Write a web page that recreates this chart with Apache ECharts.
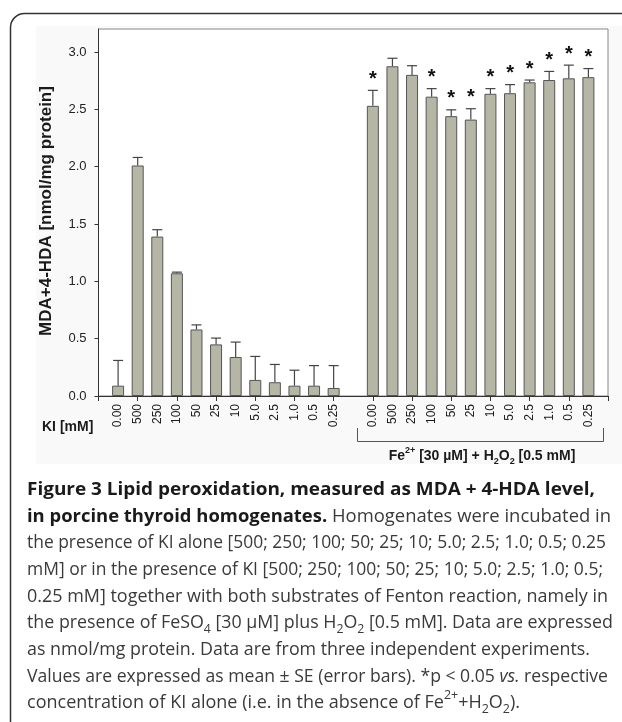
<!DOCTYPE html>
<html>
<head>
<meta charset="utf-8">
<script src="https://cdn.jsdelivr.net/npm/echarts@6/dist/echarts.min.js"></script>
<style>
  html, body { margin: 0; padding: 0; background: #fff; }
  #chart { width: 622px; height: 722px; }
</style>
</head>
<body>
<div id="chart"></div>
<script>
// KI concentrations [mM], same order in both groups
const kiLabels = ['0.00', '500', '250', '100', '50', '25', '10', '5.0', '2.5', '1.0', '0.5', '0.25'];
// KI alone
const kiAlone = [0.09, 2.01, 1.39, 1.07, 0.58, 0.45, 0.34, 0.14, 0.12, 0.09, 0.09, 0.07];
const kiAloneSE = [0.22, 0.07, 0.06, 0.01, 0.04, 0.055, 0.13, 0.205, 0.155, 0.135, 0.175, 0.195];
// KI + Fe2+ [30 uM] + H2O2 [0.5 mM]
const kiFenton = [2.53, 2.875, 2.80, 2.61, 2.44, 2.41, 2.635, 2.64, 2.735, 2.755, 2.77, 2.78];
const kiFentonSE = [0.135, 0.07, 0.08, 0.07, 0.055, 0.095, 0.045, 0.075, 0.02, 0.075, 0.115, 0.075];
const fentonSig = [1, 0, 0, 1, 1, 1, 1, 1, 1, 1, 1, 1];
const yTicks = [0, 0.5, 1.0, 1.5, 2.0, 2.5, 3.0];

// slots on the x axis: empty, 12 KI alone, empty gap, 12 with Fenton, empty
const slotLabels = [''].concat(kiLabels, [''], kiLabels, ['']);
const slotKeys = slotLabels.map((l, i) => i + ':' + l);

const barData = slotLabels.map(() => '-');
const errData = [];
kiAlone.forEach((v, i) => {
  barData[i + 1] = v;
  errData.push([i + 1, v, kiAloneSE[i], 0]);
});
kiFenton.forEach((v, i) => {
  barData[i + 14] = v;
  errData.push([i + 14, v, kiFentonSE[i], fentonSig[i]]);
});

const chart = echarts.init(document.getElementById('chart'));

const capFont = '"Open Sans", "Liberation Sans", sans-serif';
const capRich = {
  b: { fontFamily: capFont, fontSize: 17.4, fontWeight: 'bold', fill: '#1a1a1a', lineHeight: 26 },
  n: { fontFamily: capFont, fontSize: 17.4, fill: '#3a3a3a', lineHeight: 26 },
  i: { fontFamily: capFont, fontSize: 17.4, fontStyle: 'italic', fill: '#3a3a3a', lineHeight: 26 },
  sub: { fontFamily: capFont, fontSize: 12, fill: '#3a3a3a', lineHeight: 14, verticalAlign: 'bottom' },
  sup: { fontFamily: capFont, fontSize: 12, fill: '#3a3a3a', lineHeight: 16, verticalAlign: 'top' }
};
const captionLines = [
  '{b|Figure 3 Lipid peroxidation, measured as MDA + 4-HDA level,}',
  '{b|in porcine thyroid homogenates.}{n| Homogenates were incubated in}',
  '{n|the presence of KI alone [500; 250; 100; 50; 25; 10; 5.0; 2.5; 1.0; 0.5; 0.25}',
  '{n|mM] or in the presence of KI [500; 250; 100; 50; 25; 10; 5.0; 2.5; 1.0; 0.5;}',
  '{n|0.25 mM] together with both substrates of Fenton reaction, namely in}',
  '{n|the presence of FeSO}{sub|4}{n| [30 µM] plus H}{sub|2}{n|O}{sub|2}{n| [0.5 mM]. Data are expressed}',
  '{n|as nmol/mg protein. Data are from three independent experiments.}',
  '{n|Values are expressed as mean ± SE (error bars). *p < 0.05 }{i|vs.}{n| respective}',
  '{n|concentration of KI alone (i.e. in the absence of Fe}{sup|2+}{n|+H}{sub|2}{n|O}{sub|2}{n|).}'
];
const captionY = [490, 517, 543, 570, 597, 623, 650, 677, 703];
const captionRight = [595, 611, 606, 603, 608, 613, 590, 608, 520];
const captionLeft = 27;

// measure a rich caption line so it can be stretched to the reference width
const measureCtx = document.createElement('canvas').getContext('2d');
function lineWidth(str) {
  let w = 0;
  str.replace(/\{(\w+)\|([^}]*)\}/g, (m, s, t) => {
    const st = capRich[s];
    measureCtx.font = (st.fontStyle || 'normal') + ' ' + (st.fontWeight || 'normal') + ' ' + st.fontSize + 'px ' + st.fontFamily;
    w += measureCtx.measureText(t).width;
    return m;
  });
  return w;
}

const graphics = [
  { type: 'rect', z: -10, shape: { x: 36, y: 26, width: 590, height: 438 }, style: { fill: '#f9f9f9' } },
  { type: 'rect', z: -5, shape: { x: 10.5, y: 13.5, width: 700, height: 800, r: 14 }, style: { fill: 'none', stroke: '#333', lineWidth: 1.5 } },
  {
    type: 'text', x: 46, y: 211, rotation: Math.PI / 2,
    style: { text: 'MDA+4-HDA [nmol/mg protein]', font: 'bold 17px "Liberation Sans", Arial, sans-serif', fill: '#1a1a1a', align: 'center', verticalAlign: 'middle' }
  },
  {
    type: 'text', x: 42, y: 427,
    style: { text: 'KI [mM]', font: 'bold 14px "Liberation Sans", Arial, sans-serif', fill: '#1a1a1a', align: 'left', verticalAlign: 'middle' }
  },
  {
    type: 'polyline',
    shape: { points: [[357.5, 428], [357.5, 441.5], [603.5, 441.5], [603.5, 428]] },
    style: { stroke: '#555', lineWidth: 1, fill: 'none' }
  },
  {
    type: 'text', x: 482, y: 456,
    style: {
      text: '{t|Fe}{sp|2+}{t| [30 µM] + H}{sb|2}{t|O}{sb|2}{t| [0.5 mM]}',
      align: 'center', verticalAlign: 'middle',
      rich: {
        t: { fontFamily: '"Liberation Sans", Arial, sans-serif', fontSize: 14, fontWeight: 'bold', fill: '#1a1a1a', lineHeight: 20 },
        sp: { fontFamily: '"Liberation Sans", Arial, sans-serif', fontSize: 9, fontWeight: 'bold', fill: '#1a1a1a', lineHeight: 14, verticalAlign: 'top' },
        sb: { fontFamily: '"Liberation Sans", Arial, sans-serif', fontSize: 9, fontWeight: 'bold', fill: '#1a1a1a', lineHeight: 12, verticalAlign: 'bottom' }
      }
    }
  }
];
captionLines.forEach((t, i) => {
  const w = lineWidth(t);
  graphics.push({
    type: 'text', x: captionLeft, y: captionY[i],
    scaleX: w > 0 ? (captionRight[i] - captionLeft) / w : 1,
    style: { text: t, rich: capRich, align: 'left', verticalAlign: 'middle' }
  });
});

const option = {
  animation: false,
  backgroundColor: '#fff',
  grid: {
    left: 98.5, right: 14, top: 29, bottom: 326,
    show: true, backgroundColor: '#fff', borderColor: '#888', borderWidth: 1
  },
  xAxis: {
    type: 'category',
    data: slotKeys,
    boundaryGap: false,
    axisLine: { lineStyle: { color: '#333', width: 1 } },
    axisTick: { show: true, interval: 1, length: 5, lineStyle: { color: '#333' } },
    axisLabel: {
      interval: 0, rotate: 90, margin: 8,
      fontFamily: '"Liberation Sans", Arial, sans-serif', fontSize: 12, color: '#1a1a1a',
      formatter: v => v.split(':')[1]
    },
    splitLine: { show: false }
  },
  yAxis: {
    type: 'value',
    min: 0, max: 3.2,
    axisLine: { show: true, lineStyle: { color: '#333', width: 1 } },
    axisTick: { show: true, length: 4, customValues: yTicks, lineStyle: { color: '#333' } },
    axisLabel: {
      customValues: yTicks, margin: 12,
      fontFamily: '"Liberation Sans", Arial, sans-serif', fontSize: 13, color: '#222',
      formatter: v => v.toFixed(1)
    },
    splitLine: { show: false }
  },
  series: [
    {
      type: 'bar',
      data: barData,
      barWidth: 12,
      itemStyle: { color: '#b6b6a7', borderColor: '#555', borderWidth: 1 }
    },
    {
      type: 'custom',
      data: errData,
      encode: { x: 0, y: 1 },
      z: 3,
      renderItem: (params, api) => {
        const x = api.value(0);
        const mean = api.value(1);
        const top = mean + api.value(2);
        const p0 = api.coord([x, mean]);
        const p1 = api.coord([x, top]);
        const children = [
          { type: 'line', shape: { x1: p0[0], y1: p0[1], x2: p1[0], y2: p1[1] }, style: { stroke: '#444', lineWidth: 1.2 } },
          { type: 'line', shape: { x1: p1[0] - 5, y1: p1[1], x2: p1[0] + 5, y2: p1[1] }, style: { stroke: '#444', lineWidth: 1.2 } }
        ];
        if (api.value(3)) {
          children.push({
            type: 'text', x: p1[0], y: p1[1] - 11,
            style: { text: '*', font: 'bold 20px "Liberation Sans", Arial, sans-serif', fill: '#111', align: 'center', verticalAlign: 'middle' }
          });
        }
        return { type: 'group', children: children };
      }
    }
  ],
  graphic: graphics
};

chart.setOption(option);
</script>
</body>
</html>
